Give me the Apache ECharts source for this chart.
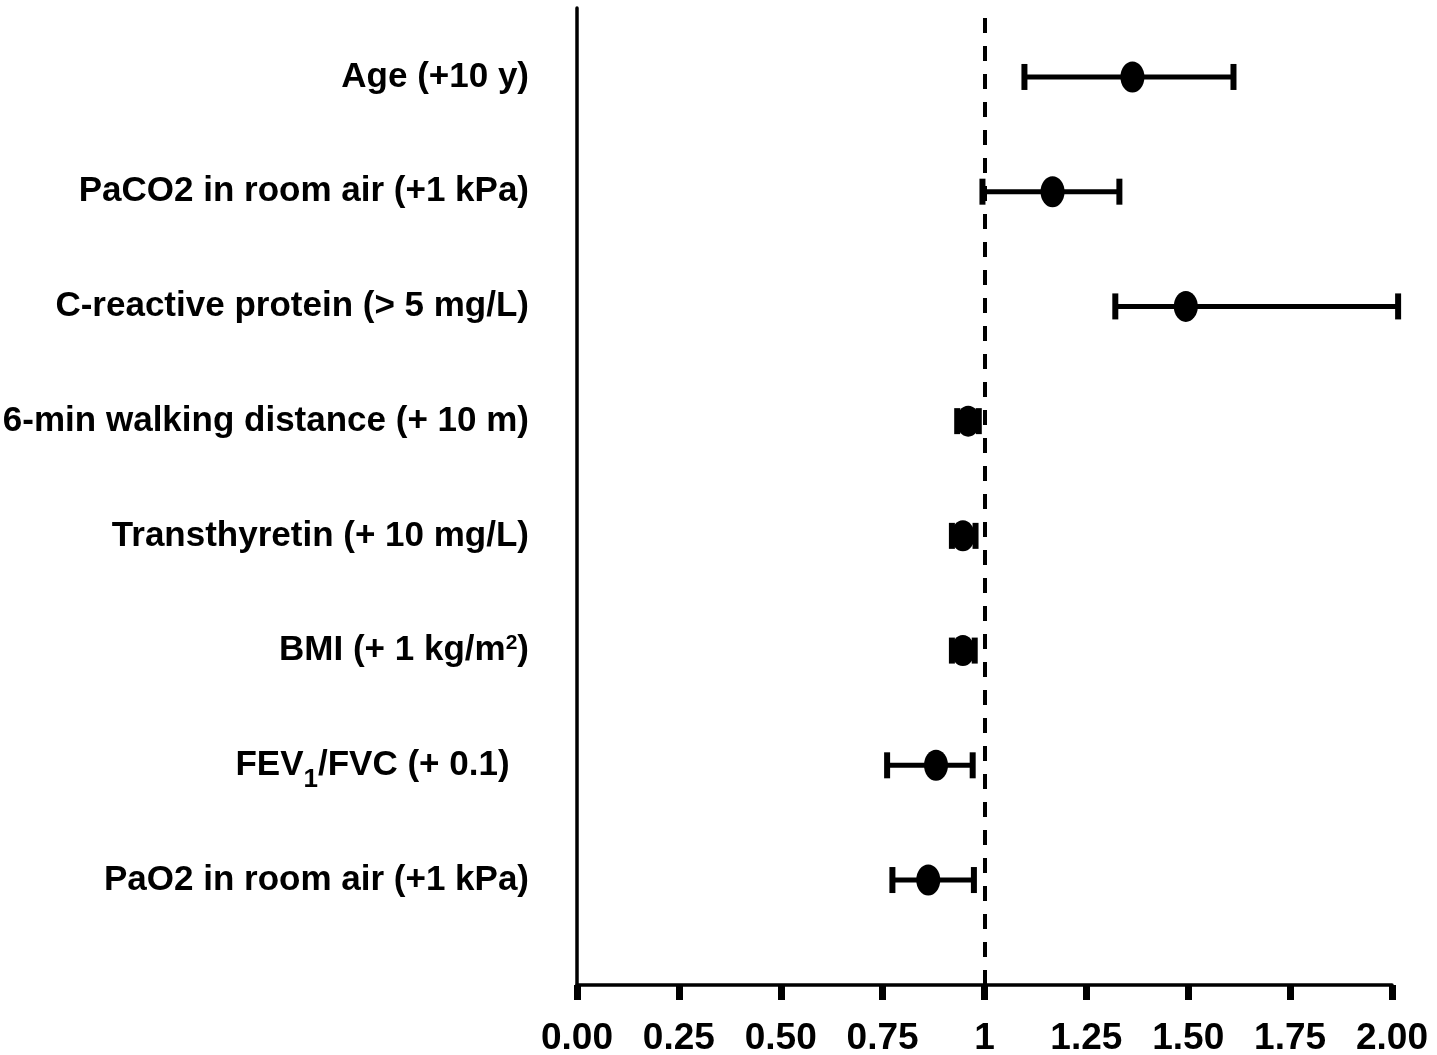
<!DOCTYPE html>
<html>
<head>
<meta charset="utf-8">
<script src="https://cdn.jsdelivr.net/npm/echarts@6/dist/echarts.min.js"></script>
<style>
  html, body { margin: 0; padding: 0; background: #fff; }
  #chart { width: 1437px; height: 1055px; }
</style>
</head>
<body>
<div id="chart"></div>
<script>
// predictors, top to bottom
const categories = [
  'Age (+10 y)',
  'PaCO2 in room air (+1 kPa)',
  'C-reactive protein (> 5 mg/L)',
  '6-min walking distance (+ 10 m)',
  'Transthyretin (+ 10 mg/L)',
  'BMI (+ 1 kg/m2)',
  'FEV1/FVC (+ 0.1)',
  'PaO2 in room air (+1 kPa)'
];
// point estimate and confidence interval
const estimate = [1.363, 1.167, 1.494, 0.960, 0.947, 0.947, 0.881, 0.862];
const ciLow    = [1.098, 0.995, 1.321, 0.933, 0.920, 0.920, 0.761, 0.774];
const ciHigh   = [1.611, 1.331, 2.015, 0.986, 0.978, 0.976, 0.971, 0.974];
const refValue = 1;

// labels with sub/superscripts
const richNames = {
  'BMI (+ 1 kg/m2)': 'BMI (+ 1 kg/m{sup|2})',
  'FEV1/FVC (+ 0.1)': 'FEV{sub|1}/FVC (+ 0.1)  '
};

const font = '"Liberation Sans", Arial, sans-serif';

const chart = echarts.init(document.getElementById('chart'));

const option = {
  backgroundColor: '#fff',
  animation: false,
  grid: [
    { left: 577, right: 45, top: 19.6, bottom: 117.6, containLabel: false, outerBoundsMode: 'none' },
    { left: 577, right: 45, top: 8, bottom: 70, containLabel: false, outerBoundsMode: 'none' }
  ],
  xAxis: [
    { gridIndex: 0, type: 'value', min: 0, max: 2, show: false },
    {
      gridIndex: 1, type: 'value', min: 0, max: 2, interval: 0.25,
      axisLine: { lineStyle: { color: '#000', width: 3.5 } },
      axisTick: { show: true, length: 15, lineStyle: { color: '#000', width: 7 } },
      splitLine: { show: false },
      axisLabel: {
        color: '#000', fontFamily: font, fontWeight: 'bold', fontSize: 37, margin: 35,
        formatter: v => (v === 1 ? '1' : v.toFixed(2))
      }
    }
  ],
  yAxis: [
    {
      gridIndex: 0, type: 'category', inverse: true, data: categories,
      axisLine: { show: false }, axisTick: { show: false },
      axisLabel: {
        color: '#000', fontFamily: font, fontWeight: 'bold', fontSize: 35, margin: 48,
        formatter: v => richNames[v] || v,
        rich: {
          sub: { fontFamily: font, fontWeight: 'bold', fontSize: 26, color: '#000',
                 verticalAlign: 'bottom', padding: [0, 0, -10, 0] },
          sup: { fontFamily: font, fontWeight: 'bold', fontSize: 21, color: '#000',
                 verticalAlign: 'top', padding: [0, 0, 4, 0] }
        }
      }
    },
    {
      gridIndex: 1, type: 'value', min: 0, max: 1,
      axisLine: { show: true, lineStyle: { color: '#000', width: 3.5 } },
      axisTick: { show: false }, axisLabel: { show: false }, splitLine: { show: false }
    }
  ],
  series: [
    {
      type: 'custom',
      xAxisIndex: 0, yAxisIndex: 0,
      data: categories.map((c, i) => [i, ciLow[i], ciHigh[i]]),
      encode: { y: 0, x: [1, 2] },
      renderItem: (params, api) => {
        const idx = api.value(0);
        const a = api.coord([api.value(1), idx]);
        const b = api.coord([api.value(2), idx]);
        const cap = 13;
        const capStyle = { stroke: '#000', lineWidth: 6 };
        return {
          type: 'group',
          children: [
            { type: 'line', shape: { x1: a[0], y1: a[1], x2: b[0], y2: b[1] }, style: { stroke: '#000', lineWidth: 5 } },
            { type: 'line', shape: { x1: a[0], y1: a[1] - cap, x2: a[0], y2: a[1] + cap }, style: capStyle },
            { type: 'line', shape: { x1: b[0], y1: b[1] - cap, x2: b[0], y2: b[1] + cap }, style: capStyle }
          ]
        };
      },
      z: 2
    },
    {
      type: 'scatter',
      xAxisIndex: 0, yAxisIndex: 0,
      data: estimate.map((v, i) => [v, i]),
      symbol: 'circle',
      symbolSize: [24, 31],
      itemStyle: { color: '#000', opacity: 1 },
      z: 3
    },
    {
      type: 'scatter',
      xAxisIndex: 1, yAxisIndex: 1,
      data: [],
      markLine: {
        silent: true,
        symbol: 'none',
        label: { show: false },
        lineStyle: { color: '#000', width: 4, type: [15, 13] },
        data: [{ xAxis: refValue }]
      }
    }
  ]
};

chart.setOption(option);
</script>
</body>
</html>
